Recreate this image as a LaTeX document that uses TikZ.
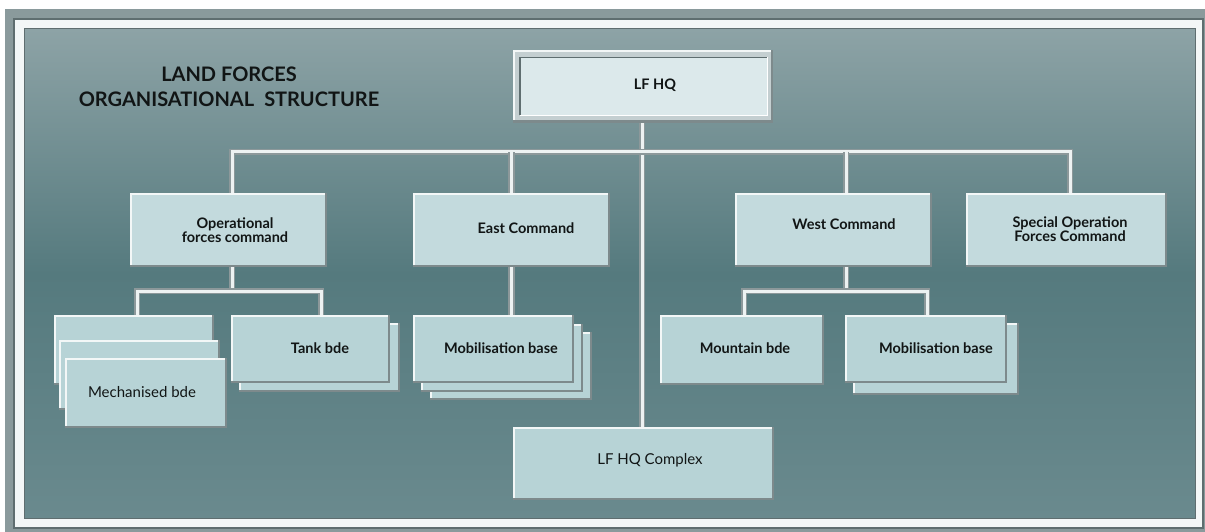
\documentclass[tikz,border=0pt]{standalone}
\usepackage{fontspec}
\setmainfont{Lato}
\definecolor{facelow}{HTML}{B7D3D6}
\definecolor{faceup}{HTML}{C3DADD}
\definecolor{facehq}{HTML}{DCE9EB}
\definecolor{hqframe}{HTML}{C4CFD1}
\definecolor{bevdark}{HTML}{7D8A8C}
\definecolor{bevlight}{HTML}{F3F7F7}
\definecolor{conngray}{HTML}{8C989A}
\definecolor{connwhite}{HTML}{EDF2F2}
\definecolor{framegray}{HTML}{8A9A9C}
\definecolor{framedark}{HTML}{5F6E70}
\definecolor{bgtop}{HTML}{8DA3A6}
\definecolor{bgmid}{HTML}{557A7E}
\definecolor{bgbot}{HTML}{6A8A8E}
\definecolor{inkc}{HTML}{111515}
\pgfdeclarelayer{backl}
\pgfdeclarelayer{connl}
\pgfsetlayers{backl,connl,main}
\tikzset{
  boxshape/.style={rectangle, draw=none, inner sep=0pt, outer sep=0pt},
  conn/.style={draw=conngray, line width=1.6pt, double=connwhite, double distance=3pt},
  lblb/.style={font=\fontsize{14.5}{14}\selectfont\bfseries, align=center, text=inkc, inner sep=0pt},
  lblr/.style={font=\fontsize{15}{15}\selectfont, align=center, text=inkc, inner sep=0pt},
  titlestyle/.style={font=\fontsize{20}{25}\selectfont\bfseries, align=center, text=inkc, inner sep=0pt},
}
% name, x1, y1, x2, y2, fill colour
\newcommand{\orgbox}[6]{%
  \node[boxshape, fill=#6, minimum width={(#4)-(#2)}, minimum height={(#5)-(#3)}] (#1) at ({((#2)+(#4))/2},{((#3)+(#5))/2}) {};
  \draw[bevlight, line width=2pt] ([shift={(1,0)}]#1.south west) -- ([shift={(1,1)}]#1.north west) -- ([shift={(0,1)}]#1.north east);
  \draw[bevdark, line width=2.5pt] ([shift={(-1.25,0)}]#1.north east) -- ([shift={(-1.25,-1.25)}]#1.south east) -- ([shift={(0,-1.25)}]#1.south west);
}
\begin{document}
\begin{tikzpicture}[x=1pt, y=-1pt]
\useasboundingbox (0,0) rectangle (1205,532);
\begin{pgfonlayer}{backl}
\fill[white] (0,0) rectangle (1205,532);
\fill[framegray] (5,9) rectangle (1205,532);
\draw[framedark, line width=1.5pt] (14,19) rectangle (1203,528);
\fill[bevlight] (15,20) rectangle (1202,527);
\shade[top color=bgtop, bottom color=bgbot, middle color=bgmid] (24,29) rectangle (1195,518);
\draw[framedark, line width=1pt] (24,29) rectangle (1195,518);
\end{pgfonlayer}

% title
\node[titlestyle] (ttl) at (229,87) {LAND FORCES\\ORGANISATIONAL\hspace{0.5em}STRUCTURE};

% LF HQ box
\orgbox{hq}{513}{50}{773}{123}{hqframe}
\node[boxshape, fill=facehq, minimum width=247, minimum height=58] (hqin) at (643.5,86.5) {};
\draw[framedark, line width=1.5pt] (hqin.south west) -- (hqin.north west) -- (hqin.north east);
\draw[white, line width=1pt] (hqin.north east) -- (hqin.south east) -- (hqin.south west);

% command boxes
\orgbox{oper}{130}{193}{327}{267}{faceup}
\orgbox{east}{413}{193}{610}{267}{faceup}
\orgbox{west}{735}{193}{932}{267}{faceup}
\orgbox{spec}{966}{193}{1167}{267}{faceup}

% lower boxes
\orgbox{mechA}{54}{315}{214}{385}{facelow}
\orgbox{mechB}{59}{340}{220}{410}{facelow}
\orgbox{mechC}{65}{358}{227}{428}{facelow}
\orgbox{tankB}{239}{323}{400}{392}{facelow}
\orgbox{tankA}{231}{315}{390}{383}{facelow}
\orgbox{mobEc}{430}{332}{592}{400}{facelow}
\orgbox{mobEb}{421}{324}{583}{392}{facelow}
\orgbox{mobEa}{413}{315}{574}{383}{facelow}
\orgbox{mount}{660}{315}{824}{385}{facelow}
\orgbox{mobWb}{853}{323}{1019}{395}{facelow}
\orgbox{mobWa}{845}{315}{1007}{383}{facelow}
\orgbox{cplx}{513}{427}{774}{500}{facelow}

% junction points of the connectors
\coordinate (busL) at (232,152);
\coordinate (busR) at (1070,152);
\coordinate (wbus) at (846,152);
\coordinate (osub) at (232,291);
\coordinate (osubL) at (137,291);
\coordinate (osubR) at (321,291);
\coordinate (wsub) at (846,291);
\coordinate (wsubL) at (744,291);
\coordinate (wsubR) at (927,291);

% connectors
\begin{pgfonlayer}{connl}
\draw[conn] ([xshift=-1pt]hq.south) -- ([xshift=-1pt]hq.south |- cplx.north);
\draw[conn] (busL |- oper.north) -- (busL) -- (busR) -- (busR |- spec.north);
\draw[conn] (east.north) -- (east.north |- busL);
\draw[conn] (wbus) -- (wbus |- west.north);
\draw[conn] (busL |- oper.south) -- (osub);
\draw[conn] (osubL |- mechA.north) -- (osubL) -- (osubR) -- (osubR |- tankA.north);
\draw[conn] (east.south) -- (east.south |- mobEa.north);
\draw[conn] (wbus |- west.south) -- (wsub);
\draw[conn] (wsubL |- mount.north) -- (wsubL) -- (wsubR) -- (wsubR |- mobWa.north);
\end{pgfonlayer}

% labels
\node[lblb] (hqT) at (655,85) {LF HQ};
\node[lblb] (operT) at (235,230) {Operational\\forces command};
\node[lblb] (eastT) at (526,228) {East Command};
\node[lblb] (westT) at (844,224) {West Command};
\node[lblb] (specT) at (1070,229) {Special Operation\\Forces Command};
\node[lblb] (tankT) at (320,348) {Tank bde};
\node[lblb] (mobET) at (501,348) {Mobilisation base};
\node[lblb] (mountT) at (745,348) {Mountain bde};
\node[lblb] (mobWT) at (936,348) {Mobilisation base};
\node[lblr] (mechT) at (142,392) {Mechanised bde};
\node[lblr] (cplxT) at (650,460) {LF HQ Complex};
\end{tikzpicture}
\end{document}
